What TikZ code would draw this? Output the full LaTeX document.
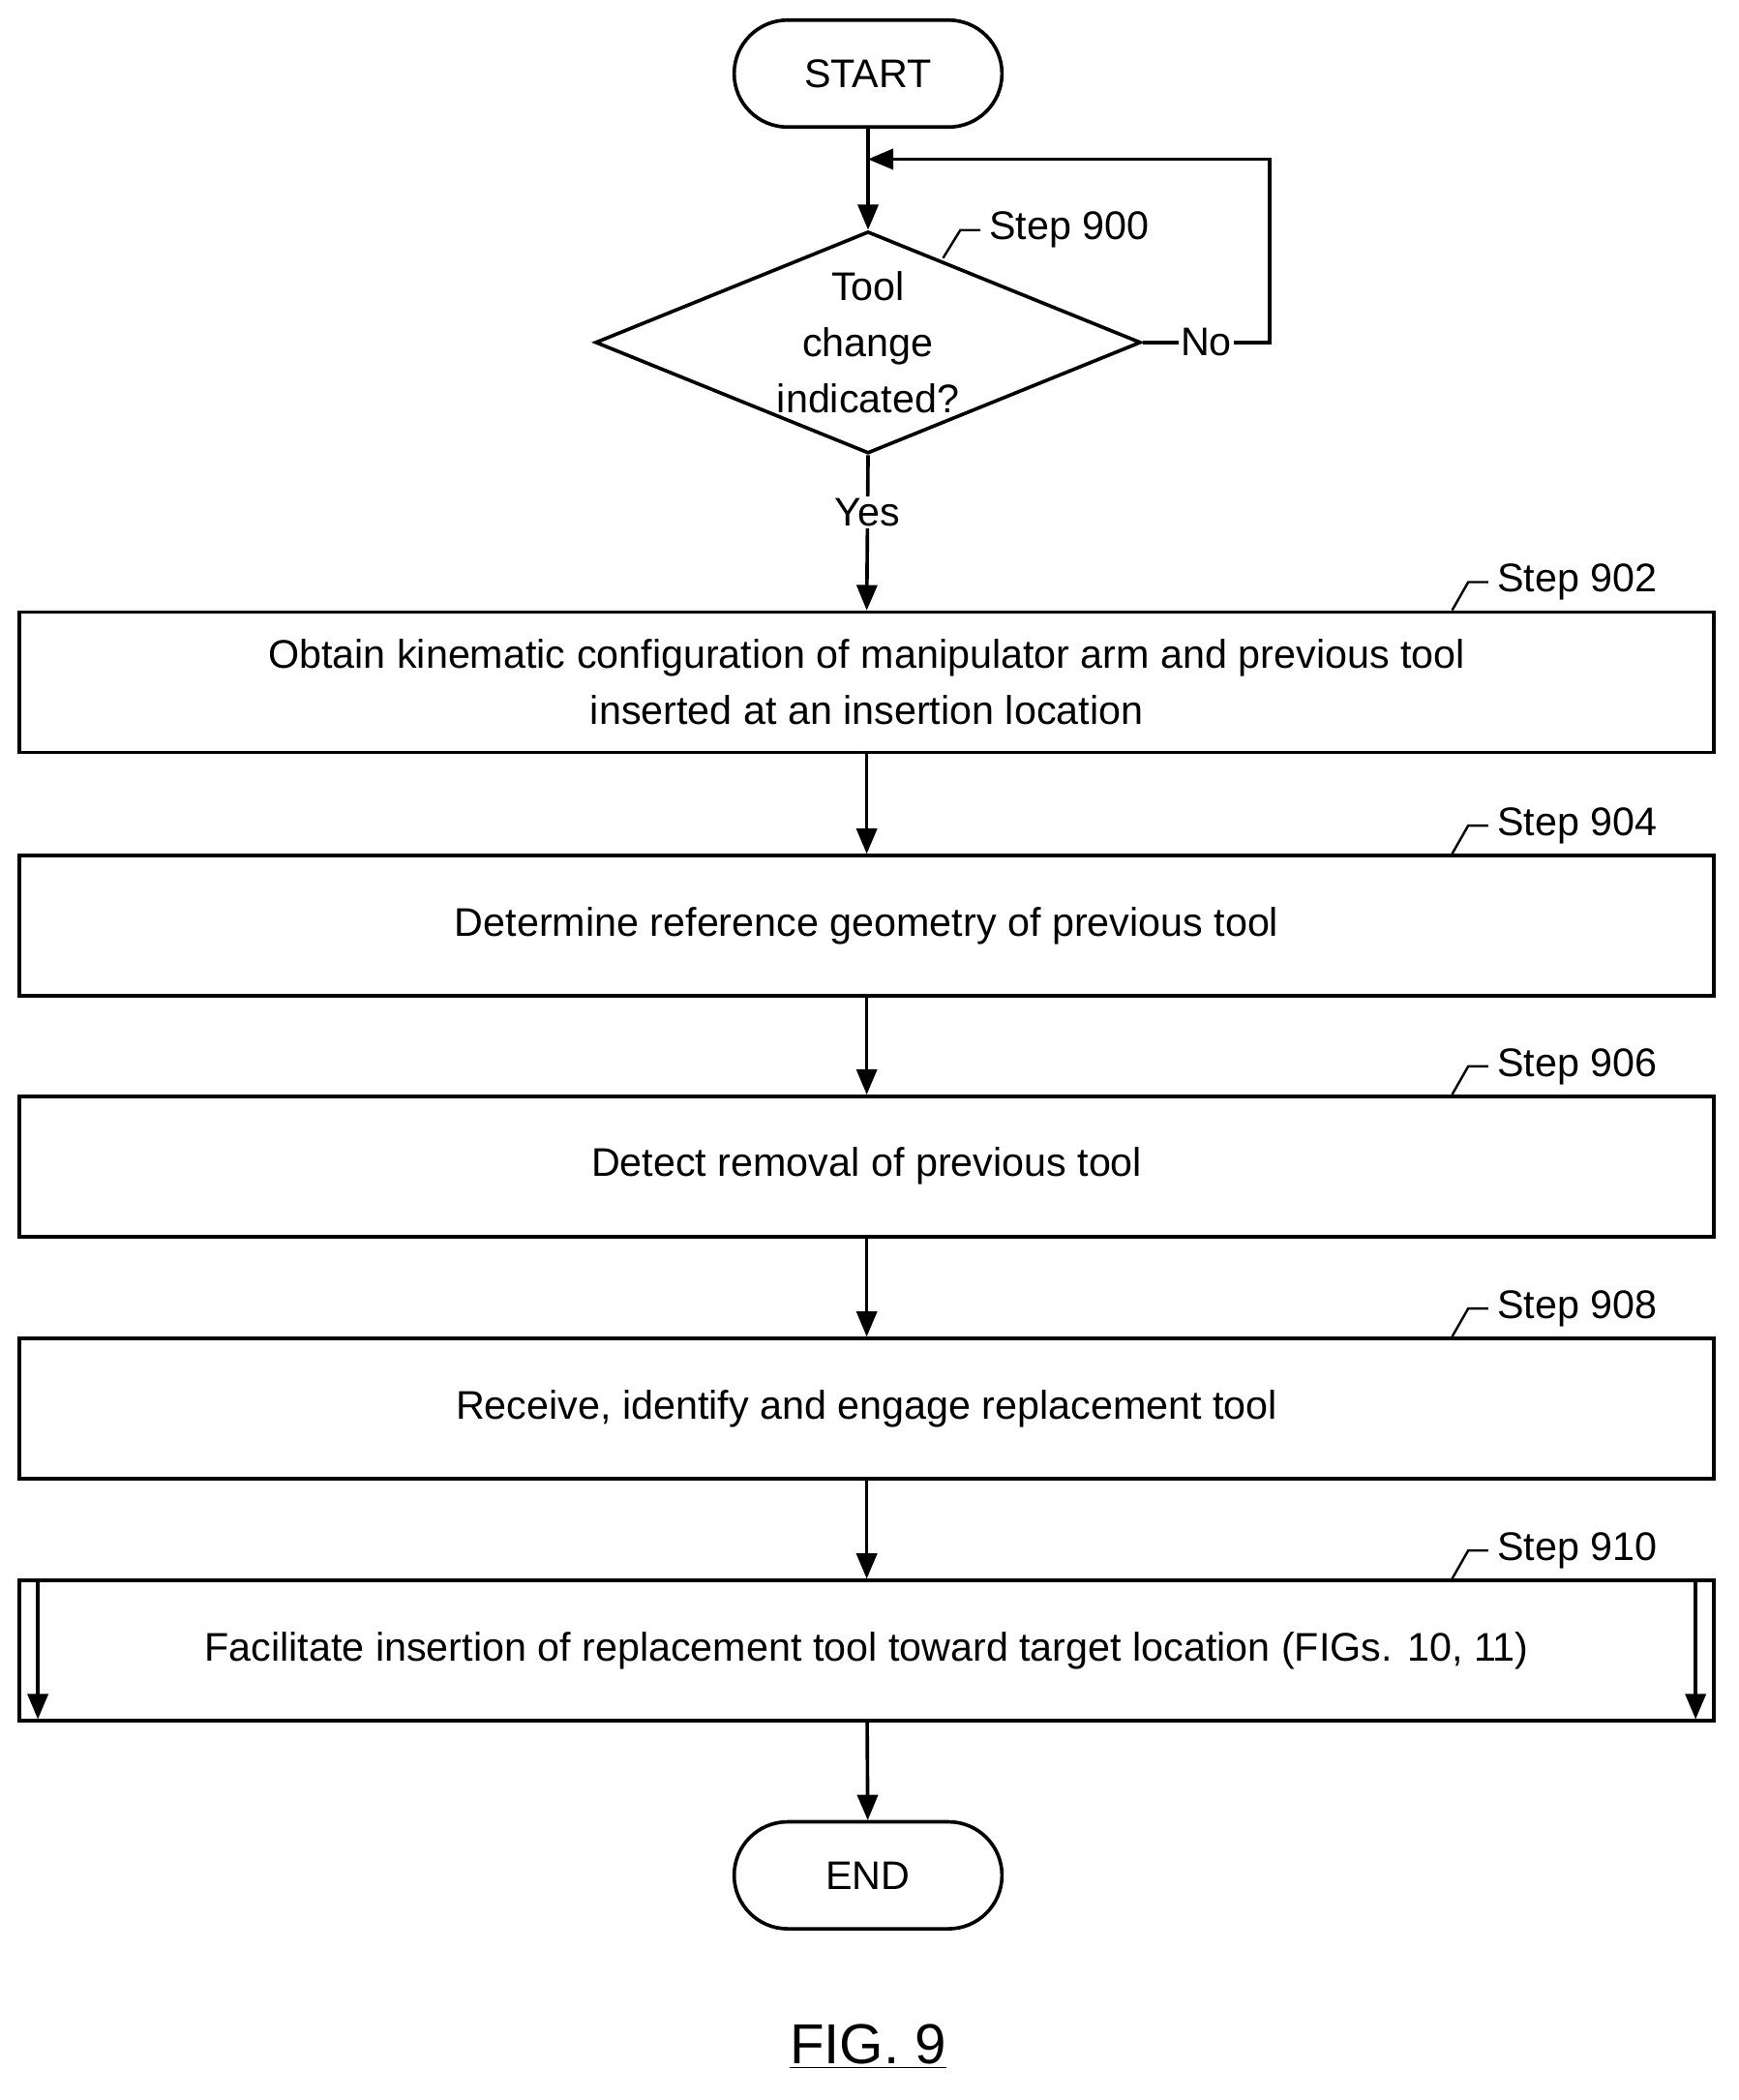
\documentclass[tikz,border=0pt]{standalone}
\usepackage{fontspec}
\setmainfont{Liberation Sans}
\usetikzlibrary{arrows,shapes.geometric,shapes.multipart,shapes.misc}

\begin{document}
\begin{tikzpicture}[->,>=triangle 45,x=0.02cm,y=-0.02cm,line width=1.5pt,
	font=\fontsize{17}{24}\selectfont,
	term/.style={draw,rounded rectangle,minimum width=4.24cm,minimum height=1.6cm},
	box/.style={draw,rectangle,minimum width=25.34cm,minimum height=2.1cm,align=center},
	dec/.style={draw,diamond,minimum width=8.16cm,minimum height=3.32cm,inner sep=0pt}]
	\useasboundingbox (0,0) rectangle (1300,1570);
	\node[term](S) at (649,55){START};
	\node[dec](D) at (649,256){};
	\node[align=center] at (D){Tool\\change\\indicated?};
	\node[box](B1) at (648,510){Obtain kinematic configuration of manipulator arm and previous tool\\inserted at an insertion location};
	\node[box](B2) at (648,692){Determine reference geometry of previous tool};
	\node[box](B3) at (648,872){Detect removal of previous tool};
	\node[box](B4) at (648,1053){Receive, identify and engage replacement tool};
	\node[box](B5) at (648,1234){Facilitate insertion of replacement tool toward target location (FIGs. 10, 11)};
	\node[term](E) at (649,1402){END};
	\coordinate (L) at (649,119);
	\coordinate (R) at (948,119);
	
	\draw (B5.north west) ++(15,0) -- ++(0,105);
	\draw (B5.north east) ++(-15,0) -- ++(0,105);
	\draw[-] (S) -- (L);
	\draw (L) -- (D.north);
	\draw (D.east) -- node[fill=white,inner sep=1pt]{No} ++(95,0) |- (L);
	\draw (D.south) -- node[fill=white,inner sep=1pt,pos=0.37]{Yes} (B1.north);
	\draw (B1) -- (B2);
	\draw (B2) -- (B3);
	\draw (B3) -- (B4);
	\draw (B4) -- (B5);
	\draw (B5) -- (E);
	
	% step labels
	\draw[-,line width=1pt] (705,193) -- (718,172) -- (733,172) node[right]{Step 900};
	\foreach \n/\s in {B1/902,B2/904,B3/906,B4/908,B5/910}
		\draw[-,line width=1pt] (\n.north east) ++(-197,0) -- ++(12,-21) -- ++(15,0) node[right]{Step \s};
	
	\node[font=\fontsize{24}{28}\selectfont] at (649,1530){\underline{FIG. 9}};
\end{tikzpicture}
\end{document}
